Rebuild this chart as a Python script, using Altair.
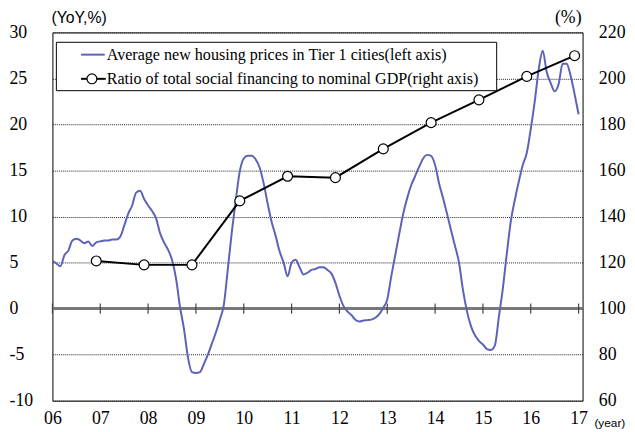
import altair as alt
import pandas as pd

# ---------------- data ----------------
year_labels = ["06", "07", "08", "09", "10", "11", "12", "13", "14", "15", "16", "17"]
year_ticks = [0, 12, 24, 36, 48, 60, 72, 84, 96, 108, 120, 132]  # month index of each Jan

# Average new housing prices in Tier 1 cities, YoY % (monthly, Jan-2006 .. Jan-2017)
housing = [
    5.2, 4.9, 4.6, 5.8, 6.3, 7.4, 7.6, 7.4, 7.1, 7.3, 6.8, 7.2,
    7.3, 7.4, 7.4, 7.5, 7.5, 7.8, 9.0, 10.3, 11.2, 12.6, 12.8, 11.9,
    11.2, 10.6, 9.8, 8.2, 7.2, 6.4, 5.3, 3.3, 0.2, -2.2, -5.3, -6.9,
    -7.0, -6.9, -6.0, -5.0, -3.8, -2.6, -1.2, 0.4, 4.3, 8.3, 11.8, 14.9,
    16.3, 16.6, 16.6, 16.2, 15.3, 13.6, 11.4, 9.4, 7.9, 6.2, 5.0, 3.5,
    5.0, 5.3, 4.5, 3.7, 3.9, 4.2, 4.3, 4.5, 4.5, 4.2, 3.8, 2.8,
    1.4, 0.3, -0.3, -0.7, -1.2, -1.4, -1.3, -1.25, -1.2, -1.0, -0.6, 0.1,
    1.0, 3.5, 5.8, 8.1, 10.3, 12.0, 13.4, 14.4, 15.4, 16.3, 16.7, 16.6,
    15.6, 13.6, 12.0, 10.3, 8.5, 6.8, 5.0, 2.0, -0.3, -1.9, -2.9, -3.5,
    -3.9, -4.4, -4.5, -4.0, -0.9, 2.2, 6.0, 9.5, 11.8, 13.8, 15.6, 16.9,
    19.5, 22.5, 26.0, 28.0, 25.7, 24.5, 23.6, 24.4, 26.6, 26.6, 25.3, 23.3,
    21.1,
]
months = list(range(len(housing)))

# Ratio of total social financing to nominal GDP, % (December of each year 2006..2016)
ratio_months = [11, 23, 35, 47, 59, 71, 83, 95, 107, 119, 131]
ratio = [120.7, 119.0, 119.0, 146.8, 157.5, 156.9, 169.4, 180.8, 190.7, 200.9, 209.9]

left_ticks = [-10, -5, 0, 5, 10, 15, 20, 25, 30]
right_ticks = [60, 80, 100, 120, 140, 160, 180, 200, 220]

legend_labels = [
    "Average new housing prices in Tier 1 cities(left axis)",
    "Ratio of total social financing to nominal GDP(right axis)",
]

# ---------------- styling ----------------
BLUE = "#5c62b8"
SERIF = "Liberation Serif"
SANS = "Liberation Sans"
W, H = 537, 373

df_h = pd.DataFrame({"m": months, "v": housing})
df_r = pd.DataFrame({"m": ratio_months, "v": ratio})
df_ticks = pd.DataFrame({"m": year_ticks, "lo": [-0.55] * len(year_ticks), "hi": [0.55] * len(year_ticks)})

label_js = "[" + ",".join("'%s'" % s for s in year_labels) + "]"

xscale = alt.Scale(domain=[0, 133], nice=False, zero=False)
yl_scale = alt.Scale(domain=[-10, 30], nice=False, zero=False)
yr_scale = alt.Scale(domain=[60, 220], nice=False, zero=False)

x_axis = alt.Axis(
    values=year_ticks, labelExpr=label_js + "[round(datum.value/12)]",
    ticks=False, domain=False, grid=False, title=None,
    labelFont=SERIF, labelFontSize=18, labelColor="#000", labelPadding=9,
    labelFlush=False,
)
yl_axis = alt.Axis(
    values=left_ticks, orient="left", ticks=False, domain=False, title=None,
    grid=True, gridDash=[1, 1], gridColor="#222", gridWidth=1,
    labelFont=SERIF, labelFontSize=18, labelColor="#000", labelPadding=44,
    labelAlign="left", labelExpr="'' + datum.value",
)
yr_axis = alt.Axis(
    values=right_ticks, orient="right", ticks=False, domain=False, title=None,
    grid=False, labelFont=SERIF, labelFontSize=18, labelColor="#000", labelPadding=16,
)

housing_line = alt.Chart(df_h).mark_line(color=BLUE, strokeWidth=2, interpolate="monotone").encode(
    x=alt.X("m:Q", scale=xscale, axis=x_axis),
    y=alt.Y("v:Q", scale=yl_scale, axis=yl_axis),
)

zero_rule = alt.Chart(df_ticks).mark_rule(color="#777", strokeWidth=1.5).encode(
    y=alt.datum(0, scale=yl_scale),
)

year_tick_marks = alt.Chart(df_ticks).mark_rule(color="#444", strokeWidth=1.2).encode(
    x=alt.X("m:Q", scale=xscale),
    y=alt.Y("lo:Q", scale=yl_scale),
    y2="hi:Q",
)

left_layer = alt.layer(zero_rule, year_tick_marks, housing_line)

ratio_line = alt.Chart(df_r).mark_line(color="#000", strokeWidth=2).encode(
    x=alt.X("m:Q", scale=xscale),
    y=alt.Y("v:Q", scale=yr_scale, axis=yr_axis),
)
ratio_pts = alt.Chart(df_r).mark_point(
    shape="circle", filled=True, fill="#fff", stroke="#000", strokeWidth=1.2, size=100, opacity=1
).encode(
    x=alt.X("m:Q", scale=xscale),
    y=alt.Y("v:Q", scale=yr_scale),
)
right_layer = alt.layer(ratio_line, ratio_pts)

# ---------------- legend (drawn manually) ----------------
df_leg = pd.DataFrame({"label": legend_labels, "row": [0, 1]})
leg_box = alt.Chart(df_leg.head(1)).mark_rect(fill="#fff", stroke="#000", strokeWidth=1).encode(
    x=alt.value(4), x2=alt.value(450), y=alt.value(10), y2=alt.value(59)
)
leg_blue = alt.Chart(df_leg.head(1)).mark_rule(color=BLUE, strokeWidth=2).encode(
    x=alt.value(29), x2=alt.value(53), y=alt.value(22.5)
)
leg_black = alt.Chart(df_leg.head(1)).mark_rule(color="#000", strokeWidth=2).encode(
    x=alt.value(29), x2=alt.value(54), y=alt.value(47)
)
leg_circle = alt.Chart(df_leg.head(1)).mark_point(
    shape="circle", filled=True, fill="#fff", stroke="#000", strokeWidth=1.2, size=100, opacity=1
).encode(x=alt.value(40), y=alt.value(47))
leg_t1 = alt.Chart(df_leg.iloc[[0]]).mark_text(
    font=SERIF, fontSize=16.3, align="left", baseline="middle", color="#000"
).encode(text="label:N", x=alt.value(55), y=alt.value(23))
leg_t2 = alt.Chart(df_leg.iloc[[1]]).mark_text(
    font=SERIF, fontSize=16.3, align="left", baseline="middle", color="#000"
).encode(text="label:N", x=alt.value(55), y=alt.value(47.5))

# ---------------- axis unit labels ----------------
units = pd.DataFrame({"t": ["(YoY,%)", "(%)", "(year)"]})
t_yoy = alt.Chart(units.iloc[[0]]).mark_text(
    font=SANS, fontSize=16, align="left", baseline="middle", color="#000"
).encode(text="t:N", x=alt.value(-1), y=alt.value(-15))
t_pct = alt.Chart(units.iloc[[1]]).mark_text(
    font=SERIF, fontSize=18, align="right", baseline="middle", color="#000"
).encode(text="t:N", x=alt.value(536), y=alt.value(-15))
t_year = alt.Chart(units.iloc[[2]]).mark_text(
    font=SANS, fontSize=12, align="left", baseline="middle", color="#000"
).encode(text="t:N", x=alt.value(549), y=alt.value(396))

chart = alt.layer(
    left_layer, right_layer, leg_box, leg_blue, leg_black, leg_circle, leg_t1, leg_t2,
    t_yoy, t_pct, t_year,
).resolve_scale(y="independent").properties(
    width=W, height=H,
    autosize=alt.AutoSizeParams(type="none"),
    padding={"left": 45, "top": 22, "right": 45, "bottom": 29},
    background="#ffffff",
).configure_view(stroke="#000", strokeWidth=1)

chart.save("out.html", embed_options={"renderer": "svg", "actions": False})
